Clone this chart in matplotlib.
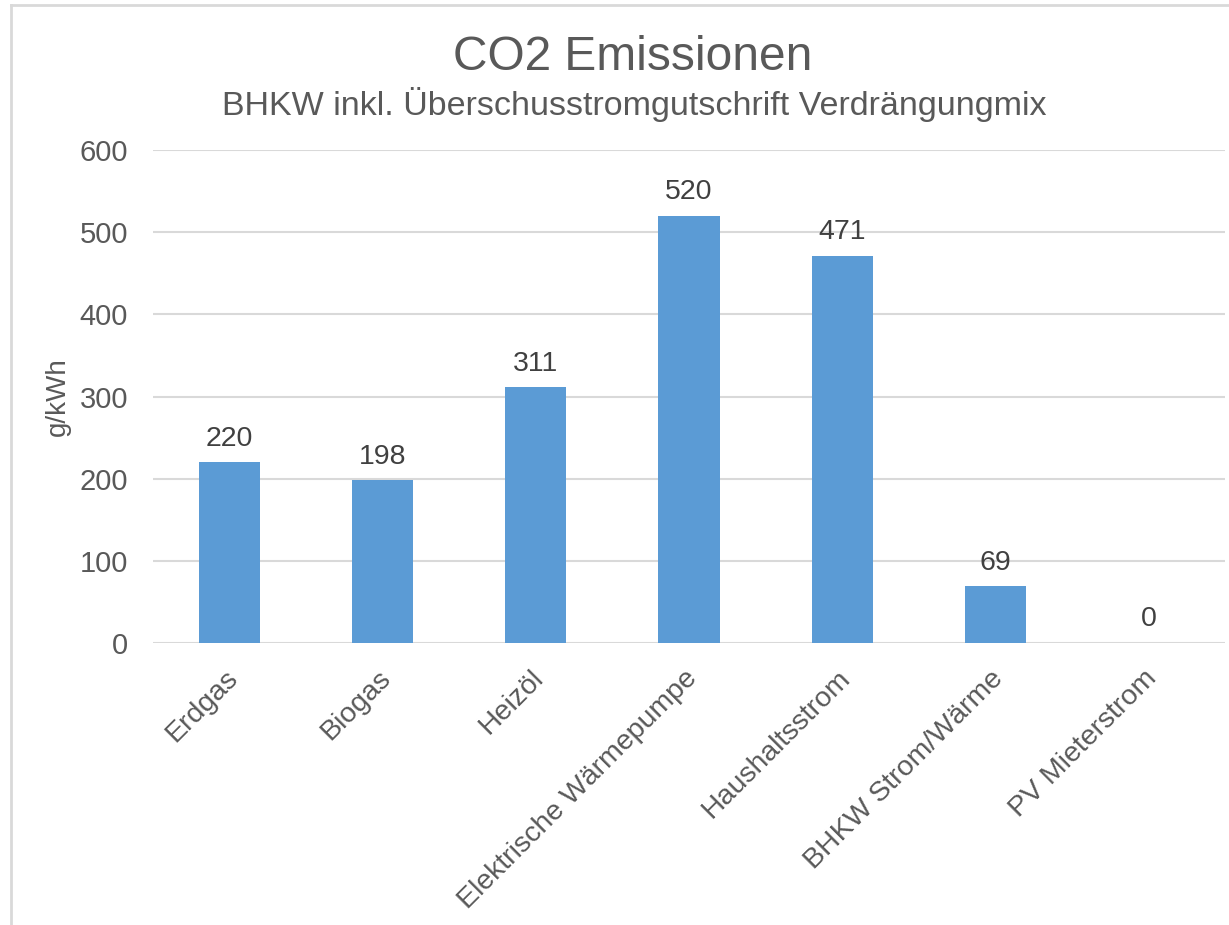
import numpy as np
import matplotlib.pyplot as plt
from matplotlib.lines import Line2D
import matplotlib.transforms as mtransforms

plt.rcParams['font.family'] = ['Liberation Sans', 'DejaVu Sans']

# ==== Daten ====
kategorien = ["Erdgas", "Biogas", "Heizöl", "Elektrische Wärmepumpe",
              "Haushaltsstrom", "BHKW Strom/Wärme", "PV Mieterstrom"]
werte = [220, 198, 311, 520, 471, 69, 0]
y_ticks = [0, 100, 200, 300, 400, 500, 600]

titel = "CO2 Emissionen"
untertitel = "BHKW inkl. Überschusstromgutschrift Verdrängungmix"
y_label = "g/kWh"

blau = "#5B9BD5"
grau_text = "#595959"
grau_gitter = "#D9D9D9"

fig = plt.figure(figsize=(12.29, 9.25), dpi=100)
ax = fig.add_axes([153/1229, 1-643/925, (1225-153)/1229, (643-150)/925])

x = np.arange(len(kategorien))
ax.bar(x, werte, width=0.4, color=blau, zorder=3)

# Datenbeschriftungen
for xi, w in zip(x, werte):
    ax.annotate(str(w), (xi, w), xytext=(0, 12), textcoords="offset points",
                ha="center", va="baseline", fontsize=20.5, color="#404040")

ax.set_xlim(-0.5, len(kategorien) - 0.5)
ax.set_ylim(0, 600)
ax.set_yticks(y_ticks)
ax.grid(axis="y", color=grau_gitter, linewidth=1.5, zorder=0)
for s in ax.spines.values():
    s.set_visible(False)
ax.tick_params(axis="y", length=0, pad=18, labelsize=21, labelcolor=grau_text)
ax.tick_params(axis="x", length=0, pad=16, labelsize=20.5, labelcolor=grau_text)
ax.set_xticks(x)
ax.set_xticklabels(kategorien, rotation=45, ha="right", va="top",
                   rotation_mode="anchor")
verschiebung = mtransforms.ScaledTranslation(-5/100, 0, fig.dpi_scale_trans)
for lab in ax.get_xticklabels():
    lab.set_transform(lab.get_transform() + verschiebung)
ax.set_ylabel(y_label, fontsize=20, color=grau_text, labelpad=6)

fig.text(633/1229, 1-58/925, titel, ha="center", va="center",
         fontsize=34.5, color=grau_text)
fig.text(634/1229, 1-104/925, untertitel, ha="center", va="center",
         fontsize=24.5, color=grau_text)

# Rahmen des Diagrammbereichs
fig.add_artist(Line2D([11/1229, 11/1229], [0, 1-5/925], transform=fig.transFigure,
                      color=grau_gitter, linewidth=2))
fig.add_artist(Line2D([11/1229, 1], [1-5/925, 1-5/925], transform=fig.transFigure,
                      color=grau_gitter, linewidth=2))

fig.savefig("out.png", dpi=100, facecolor="white")
